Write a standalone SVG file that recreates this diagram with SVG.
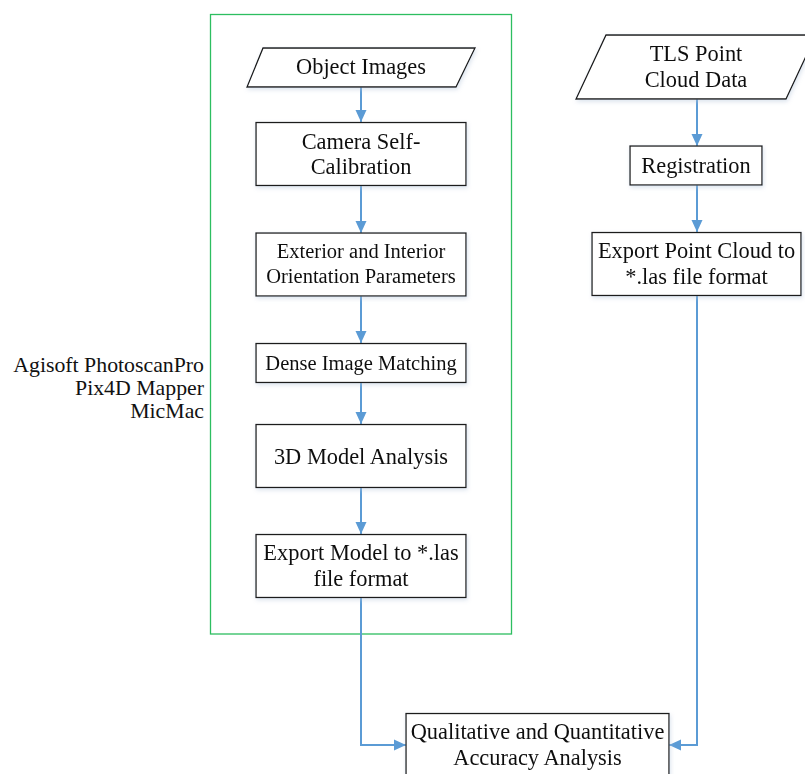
<svg xmlns="http://www.w3.org/2000/svg" width="805" height="774" viewBox="0 0 805 774">
<style>
.box{fill:#fff;stroke:#1a1a1a;stroke-width:1.3}
.t{font-family:'Liberation Serif','Times New Roman',Times,serif;font-size:22.4px;fill:#111;text-anchor:middle}
.s{font-size:20.5px}
.side{font-family:'Liberation Serif','Times New Roman',Times,serif;font-size:21.8px;fill:#111;text-anchor:end}
.c{fill:none;stroke:#5B9BD5;stroke-width:2}
</style>
<defs>
<marker id="ah" markerWidth="12" markerHeight="12" viewBox="0 0 12 12" refX="12" refY="6" orient="auto" markerUnits="userSpaceOnUse">
<path d="M0,0.5 L12,6 L0,11.5 Z" fill="#5B9BD5"/>
</marker>
<filter id="sh" x="-10%" y="-10%" width="120%" height="130%">
<feGaussianBlur in="SourceAlpha" stdDeviation="2"/>
<feOffset dx="1" dy="2" result="b"/>
<feFlood flood-color="#b8c8dc" flood-opacity="0.5"/>
<feComposite in2="b" operator="in"/>
<feMerge><feMergeNode/><feMergeNode in="SourceGraphic"/></feMerge>
</filter>
</defs>
<rect id="group-frame" x="210.5" y="14.5" width="301" height="619.5" fill="none" stroke="#2DBE60" stroke-width="1.3"/>
<g id="software-label">
<text class="side" x="204" y="372">Agisoft PhotoscanPro</text>
<text class="side" x="204" y="395">Pix4D Mapper</text>
<text class="side" x="204" y="418">MicMac</text>
</g>
<g id="connectors">
<line class="c" x1="361" y1="87" x2="361" y2="122" marker-end="url(#ah)"/>
<line class="c" x1="361" y1="185" x2="361" y2="233" marker-end="url(#ah)"/>
<line class="c" x1="361" y1="296" x2="361" y2="343" marker-end="url(#ah)"/>
<line class="c" x1="361" y1="382" x2="361" y2="424" marker-end="url(#ah)"/>
<line class="c" x1="361" y1="487" x2="361" y2="534" marker-end="url(#ah)"/>
<polyline class="c" points="361,597 361,745 406,745" marker-end="url(#ah)"/>
<line class="c" x1="697" y1="99" x2="697" y2="146" marker-end="url(#ah)"/>
<line class="c" x1="697" y1="185" x2="697" y2="232" marker-end="url(#ah)"/>
<polyline class="c" points="697,295 697,745 669,745" marker-end="url(#ah)"/>
</g>
<g id="object-images" filter="url(#sh)">
<polygon class="box" points="263,48 475,48 456,87 247,87"/>
<text class="t" x="361" y="74">Object Images</text>
</g>
<g id="camera-self-calibration" filter="url(#sh)">
<rect class="box" x="256" y="122.5" width="210" height="63"/>
<text class="t" x="361" y="148.5">Camera Self-</text>
<text class="t" x="361" y="174">Calibration</text>
</g>
<g id="orientation-parameters" filter="url(#sh)">
<rect class="box" x="256" y="233" width="210" height="63"/>
<text class="t s" x="361" y="257.5">Exterior and Interior</text>
<text class="t s" x="361" y="283">Orientation Parameters</text>
</g>
<g id="dense-image-matching" filter="url(#sh)">
<rect class="box" x="256" y="343.5" width="210" height="39"/>
<text class="t s" x="361" y="369.5">Dense Image Matching</text>
</g>
<g id="model-analysis" filter="url(#sh)">
<rect class="box" x="256" y="424.5" width="210" height="63"/>
<text class="t" x="361" y="463.5">3D Model Analysis</text>
</g>
<g id="export-model" filter="url(#sh)">
<rect class="box" x="256" y="534.5" width="210" height="63"/>
<text class="t" x="361" y="560">Export Model to *.las</text>
<text class="t" x="361" y="585.5">file format</text>
</g>
<g id="tls-point-cloud" filter="url(#sh)">
<polygon class="box" points="606,35 816,35 786,99 576,99"/>
<text class="t" x="696" y="61">TLS Point</text>
<text class="t" x="696" y="87">Cloud Data</text>
</g>
<g id="registration" filter="url(#sh)">
<rect class="box" x="630" y="146" width="132" height="39"/>
<text class="t" x="696" y="173">Registration</text>
</g>
<g id="export-point-cloud" filter="url(#sh)">
<rect class="box" x="592" y="232.5" width="209" height="63"/>
<text class="t" x="696.5" y="258">Export Point Cloud to</text>
<text class="t" x="696.5" y="283.5">*.las file format</text>
</g>
<g id="accuracy-analysis" filter="url(#sh)">
<rect class="box" x="406" y="713.5" width="263" height="70"/>
<text class="t" x="537.5" y="738.5">Qualitative and Quantitative</text>
<text class="t" x="537.5" y="764.5">Accuracy Analysis</text>
</g>
</svg>
